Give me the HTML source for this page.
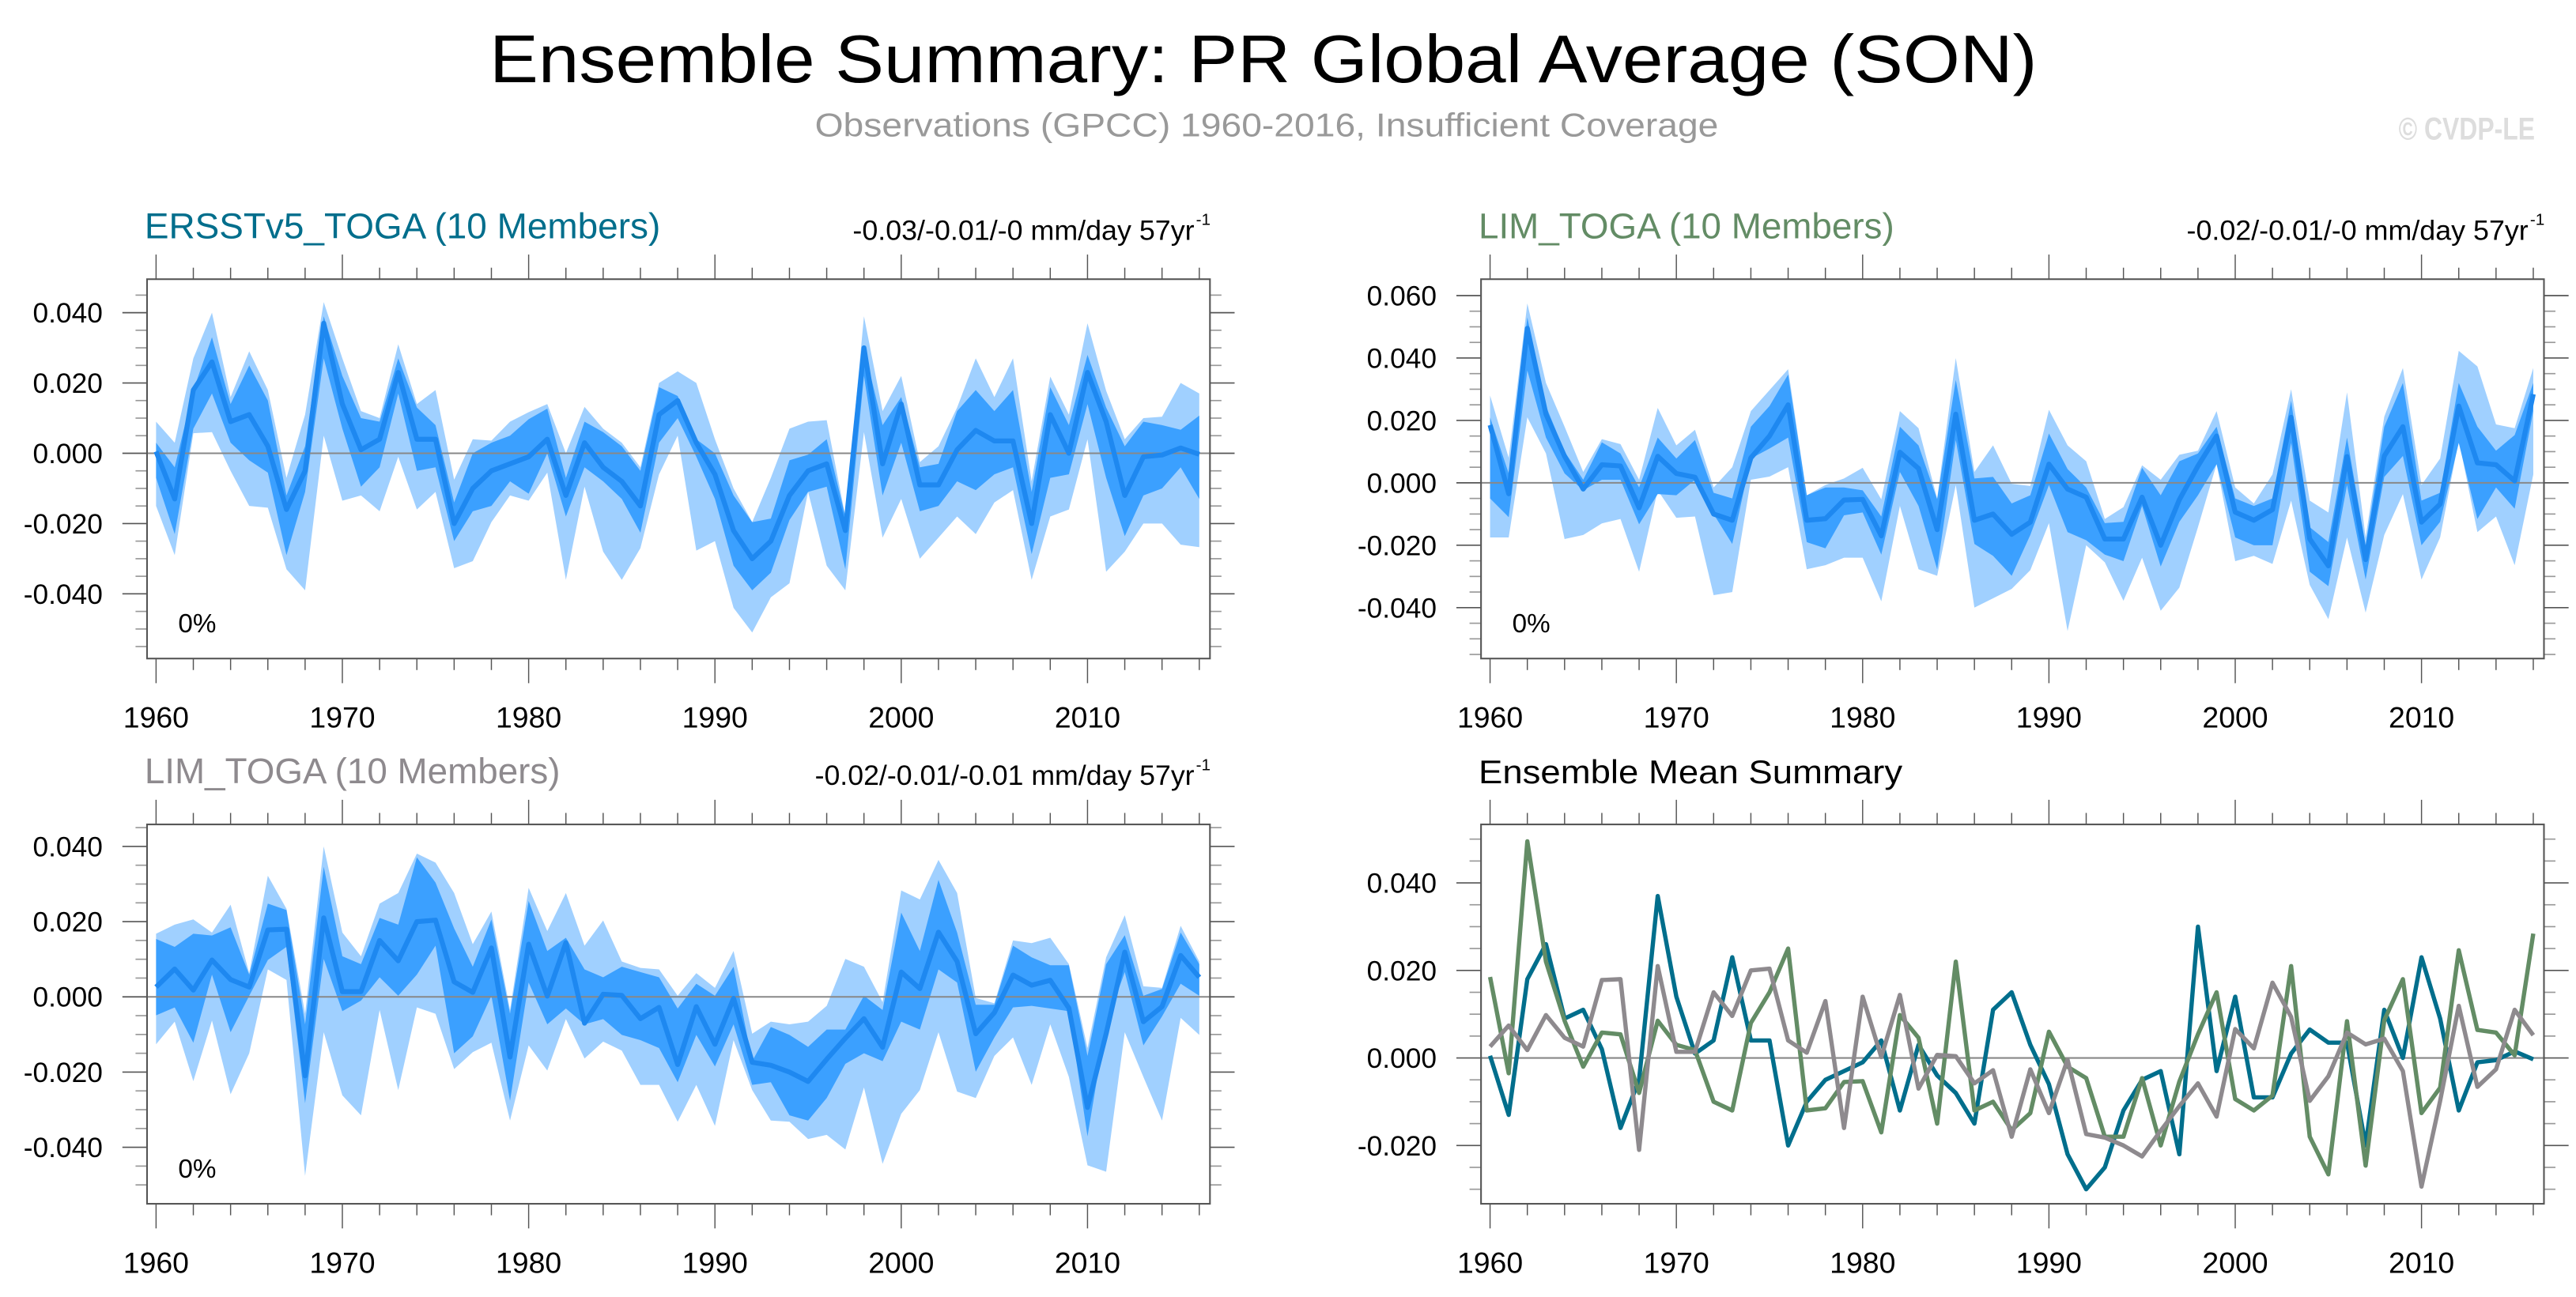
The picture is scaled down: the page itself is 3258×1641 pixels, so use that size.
<!DOCTYPE html>
<html><head><meta charset="utf-8"><title>Ensemble Summary: PR Global Average (SON)</title>
<style>
html,body{margin:0;padding:0;background:#fff;}
svg{display:block;font-family:"Liberation Sans",Arial,sans-serif;}
</style></head>
<body>
<svg id="fig" width="3258" height="1641" viewBox="0 0 1568 789.76" preserveAspectRatio="none" xmlns="http://www.w3.org/2000/svg">
<rect x="0" y="0" width="1568" height="790" fill="#fff"/>
<text x="298" y="50" font-size="41" fill="#000" textLength="942" lengthAdjust="spacingAndGlyphs">Ensemble Summary: PR Global Average (SON)</text>
<text x="496" y="83" font-size="20" fill="#999" textLength="550" lengthAdjust="spacingAndGlyphs">Observations (GPCC) 1960-2016, Insufficient Coverage</text>
<text x="1460" y="85" font-size="19" font-weight="bold" fill="#ddd" textLength="83" lengthAdjust="spacingAndGlyphs">© CVDP-LE</text>
<g id="content"></g>
</svg>
<script>
// ---- data ----
const startYear = 1960;
const nYears = 57;
// Panel 1: ERSSTv5_TOGA
const ersstMean = [0.0005,-0.013,0.018,0.026,0.009,0.011,0.002,-0.016,-0.005,0.037,0.014,0.001,0.004,0.023,0.004,0.004,-0.020,-0.010,-0.005,-0.003,-0.001,0.004,-0.012,0.003,-0.004,-0.008,-0.015,0.011,0.015,0.003,-0.006,-0.022,-0.030,-0.025,-0.012,-0.005,-0.003,-0.022,0.030,-0.003,0.014,-0.009,-0.009,0.001,0.0065,0.0035,0.0035,-0.020,0.011,0.000,0.023,0.009,-0.012,-0.001,-0.0005,0.0015,-0.0003];
const ersstMax = [0.009,0.003,0.027,0.040,0.016,0.029,0.018,-0.007,0.011,0.043,0.027,0.012,0.010,0.031,0.014,0.018,-0.0075,0.004,0.0036,0.009,0.0117,0.014,0.000,0.0132,0.007,0.003,-0.004,0.020,0.0233,0.020,0.004,-0.010,-0.0196,-0.007,0.007,0.009,0.0094,-0.018,0.039,0.012,0.022,-0.0025,0.002,0.013,0.027,0.016,0.027,-0.008,0.0218,0.011,0.037,0.0178,0.004,0.010,0.0104,0.020,0.017];
const ersstMin = [-0.015,-0.029,0.0057,0.006,-0.005,-0.015,-0.0155,-0.033,-0.039,0.005,-0.0135,-0.012,-0.0165,-0.001,-0.016,-0.011,-0.0327,-0.0307,-0.0196,-0.012,-0.0135,-0.0055,-0.036,-0.0095,-0.028,-0.036,-0.027,-0.006,0.005,-0.0277,-0.025,-0.044,-0.051,-0.041,-0.037,-0.011,-0.032,-0.039,0.006,-0.024,-0.013,-0.030,-0.024,-0.018,-0.023,-0.014,-0.0105,-0.036,-0.018,-0.016,0.004,-0.0337,-0.028,-0.020,-0.020,-0.026,-0.0267];
const ersstQ3 = [0.003,-0.004,0.018,0.033,0.014,0.025,0.015,-0.012,0.002,0.039,0.022,0.010,0.009,0.027,0.013,0.008,-0.014,0.000,0.003,0.005,0.0097,0.0127,-0.007,0.009,0.006,0.002,-0.005,0.0188,0.0163,0.004,0.000,-0.012,-0.0196,-0.0186,-0.002,-0.0004,0.004,-0.018,0.030,0.008,0.016,-0.004,-0.003,0.012,0.018,0.012,0.018,-0.011,0.0188,0.008,0.028,0.013,0.002,0.009,0.008,0.0067,0.0107];
const ersstQ1 = [-0.007,-0.023,0.007,0.017,0.003,-0.002,-0.0055,-0.029,-0.011,0.027,0.007,-0.0095,-0.004,0.017,-0.005,-0.004,-0.025,-0.0165,-0.015,-0.008,-0.0115,0.000,-0.018,-0.004,-0.008,-0.013,-0.0226,0.003,0.010,-0.001,-0.013,-0.032,-0.039,-0.034,-0.019,-0.011,-0.0095,-0.033,0.022,-0.012,0.003,-0.0165,-0.015,-0.008,-0.0105,-0.006,-0.004,-0.0287,-0.007,-0.006,0.014,-0.007,-0.0236,-0.012,-0.010,-0.004,-0.013];
// Panel 2: LIM_TOGA (green)
const limGMean = [0.0185,-0.0035,0.0495,0.022,0.0085,-0.002,0.0058,0.0054,-0.008,0.0085,0.003,0.0018,-0.010,-0.012,0.008,0.015,0.025,-0.012,-0.0115,-0.0055,-0.0053,-0.017,0.0098,0.0046,-0.015,0.022,-0.012,-0.010,-0.0165,-0.0126,0.006,-0.002,-0.0046,-0.018,-0.018,-0.0046,-0.020,-0.0054,0.0054,0.015,-0.0094,-0.012,-0.0086,0.021,-0.018,-0.0266,0.0084,-0.0246,0.0086,0.018,-0.0126,-0.0068,0.0246,0.0064,0.0058,0.0006,0.0284];
const limGMax = [0.028,0.008,0.0575,0.032,0.018,0.0035,0.014,0.0124,0.001,0.024,0.012,0.017,-0.0015,0.005,0.023,0.0297,0.0364,-0.004,-0.0007,0.0014,0.0048,-0.0053,0.023,0.0175,-0.005,0.040,0.0035,0.012,-0.0003,-0.001,0.0234,0.012,0.0069,-0.0116,-0.0078,0.0056,0.001,0.009,0.0103,0.023,-0.0015,-0.0066,0.0027,0.030,-0.0057,-0.0095,0.029,-0.0175,0.0212,0.0368,-0.0007,0.0078,0.0423,0.0373,0.0187,0.0175,0.0368];
const limGMin = [-0.0175,-0.0175,0.021,0.0094,-0.018,-0.0167,-0.013,-0.0116,-0.0285,-0.0024,-0.0112,-0.0108,-0.036,-0.035,0.001,0.002,0.005,-0.0277,-0.0264,-0.024,-0.024,-0.038,-0.0074,-0.0277,-0.0298,-0.0007,-0.040,-0.037,-0.034,-0.028,-0.0129,-0.0475,-0.020,-0.0255,-0.0378,-0.024,-0.041,-0.0336,-0.0142,0.006,-0.0251,-0.0234,-0.026,-0.0057,-0.0327,-0.0437,-0.0175,-0.0416,-0.0167,-0.0036,-0.031,-0.0175,0.0137,-0.0158,-0.0108,-0.0264,0.0027];
const limGQ3 = [0.021,0.003,0.053,0.0246,0.010,0.001,0.013,0.0094,-0.0015,0.0145,0.0078,0.0137,-0.0032,-0.005,0.018,0.0246,0.0347,-0.004,-0.0015,-0.0015,-0.0024,-0.0108,0.018,0.012,-0.0053,0.033,0.0014,0.0019,-0.0066,-0.004,0.0158,0.0044,-0.0015,-0.0129,-0.0125,0.0048,-0.004,0.0069,0.0094,0.018,-0.005,-0.0074,-0.005,0.0263,-0.0142,-0.019,0.0145,-0.020,0.018,0.032,-0.0057,-0.0032,0.032,0.018,0.0103,0.0153,0.032];
const limGQ1 = [-0.005,-0.011,0.036,0.0145,0.003,-0.0024,0.001,0.001,-0.0133,-0.0036,-0.004,0.001,-0.010,-0.0196,0.0078,0.011,0.0145,-0.019,-0.021,-0.0104,-0.0095,-0.023,0.0035,-0.0074,-0.0277,0.0137,-0.0196,-0.0234,-0.0298,-0.0167,-0.0007,-0.0158,-0.0184,-0.023,-0.0251,-0.0074,-0.0268,-0.0125,-0.004,0.006,-0.0175,-0.020,-0.020,0.0128,-0.0285,-0.0331,-0.0007,-0.031,0.0019,0.0086,-0.020,-0.0125,0.0128,-0.0116,-0.0015,-0.0083,0.023];
// Panel 3: LIM_TOGA (gray)
const limRMean = [0.0026,0.0074,0.0018,0.0098,0.0046,0.0026,0.0178,0.018,-0.021,0.021,0.0014,0.0014,0.015,0.0096,0.020,0.0204,0.004,0.0012,0.013,-0.016,0.014,0.0002,0.0144,-0.007,0.0007,0.0004,-0.0058,-0.0028,-0.018,-0.0026,-0.0126,-0.0004,-0.0174,-0.0182,-0.020,-0.0225,-0.0166,-0.011,-0.0058,-0.0134,0.0066,0.0022,0.0172,0.0094,-0.0098,-0.0042,0.0058,0.0031,0.0044,-0.003,-0.0294,-0.0098,0.0119,-0.0066,-0.0026,0.011,0.0052];
const limRMax = [0.0168,0.0192,0.0206,0.0171,0.0245,0.0063,0.0322,0.0234,-0.0045,0.040,0.0171,0.0108,0.0248,0.0276,0.0381,0.0357,0.0276,0.014,0.0227,-0.0035,0.029,0.0175,0.0276,0.0136,0.0203,0.0094,0.0077,0.0073,0.0003,0.0063,0.0024,0.0122,-0.0098,-0.0066,-0.0073,-0.0066,-0.0024,0.0101,0.008,-0.0014,0.0283,0.0259,0.0364,0.0276,-0.0003,-0.0017,0.015,0.0143,0.0157,0.0087,-0.0136,0.0105,0.0217,0.0028,0.0024,0.0189,0.0094];
const limRMin = [-0.0126,-0.0066,-0.0224,-0.0063,-0.0259,-0.015,0.0073,0.0045,-0.0476,-0.0094,-0.0262,-0.0315,-0.0035,-0.0248,-0.0028,-0.0045,-0.0192,-0.0147,-0.0122,-0.0329,-0.0129,-0.0196,-0.0059,-0.0164,-0.0119,-0.0143,-0.0234,-0.0234,-0.0332,-0.0234,-0.0343,-0.0115,-0.0248,-0.0329,-0.0332,-0.0378,-0.0367,-0.0406,-0.0241,-0.0444,-0.0311,-0.0248,-0.0094,-0.0252,-0.0269,-0.0157,-0.0108,-0.0234,-0.0073,-0.0213,-0.0448,-0.0465,-0.0094,-0.0213,-0.0329,-0.0056,-0.0101];
const limRQ3 = [0.0154,0.0133,0.0168,0.0163,0.0185,0.0059,0.0248,0.0231,-0.0073,0.0346,0.0108,0.0087,0.021,0.0192,0.0371,0.0304,0.0182,0.008,0.0206,-0.0045,0.0255,0.0122,0.0157,0.0073,0.0052,0.008,0.0066,0.0052,-0.0031,0.0035,0.0003,0.008,-0.0171,-0.008,-0.0101,-0.0133,-0.0087,-0.0087,0.0003,-0.0035,0.0224,0.0122,0.0311,0.0171,-0.0021,-0.0021,0.0136,0.0105,0.0084,0.0084,-0.0157,0.0087,0.0164,0.0003,0.0021,0.0171,0.0087];
const limRQ1 = [-0.0049,-0.0028,-0.0122,0.0059,-0.0094,0.0003,0.0098,0.0133,-0.0283,0.0101,-0.0038,-0.001,0.0052,0.0003,0.0059,0.0136,-0.015,-0.0105,0.0003,-0.0276,0.0038,-0.0073,-0.0031,-0.0073,-0.0059,-0.0101,-0.0115,-0.0136,-0.0227,-0.0101,-0.0185,-0.0073,-0.0234,-0.0227,-0.0315,-0.0329,-0.0269,-0.0178,-0.015,-0.0171,-0.0066,-0.0087,0.0073,0.0038,-0.0199,-0.0108,-0.0028,-0.0024,-0.0031,-0.0038,-0.0371,-0.0073,0.0066,-0.0129,-0.0052,0.0035,0.0003];
// tick labels
const ticks1 = [0.04,0.02,0,-0.02,-0.04];
const ticks2 = [0.06,0.04,0.02,0,-0.02,-0.04];
const ticks3 = [0.04,0.02,0,-0.02,-0.04];
const ticks4 = [0.04,0.02,0,-0.02];
const yearTicks = [1960,1970,1980,1990,2000,2010];

// ---- drawing ----
const NS = "http://www.w3.org/2000/svg";
const root = document.getElementById('content');
function mk(tag, attrs, parent){
  const e = document.createElementNS(NS, tag);
  for (const k in attrs) e.setAttribute(k, attrs[k]);
  (parent||root).appendChild(e);
  return e;
}
function fmt(v){ return v===0 ? "0.000" : v.toFixed(3); }

function axes(p, ticks, name){
  const g = mk('g', {});
  
  
  const yv = v => p.zero - v*p.k;
  const xv = yr => p.xa + (yr-startYear)*(p.xb-p.xa)/(nYears-1);
  for (let yr = startYear; yr <= startYear+nYears-1; yr += 2){
    const major = (yr % 10 === 0);
    const len = major ? 15 : 7;
    const x = xv(yr);
    mk('line', {x1:x, x2:x, y1:p.y0-len, y2:p.y0, stroke:'#555', 'stroke-width':0.7}, g);
    mk('line', {x1:x, x2:x, y1:p.y1, y2:p.y1+len, stroke:'#555', 'stroke-width':0.7}, g);
  }
  yearTicks.forEach(yr => {
    const t = mk('text', {x:xv(yr), y:p.y1+42, 'font-size':18, 'text-anchor':'middle', fill:'#000'}, g);
    
    
    t.textContent = yr;
  });
  const vmax = (p.zero - p.y0)/p.k, vmin = (p.zero - p.y1)/p.k;
  for (let m = Math.ceil(vmin/0.005 - 1e-6); m*0.005 <= vmax + 1e-9; m++){
    const v = m*0.005;
    const major = (m % 4 === 0);
    const len = major ? 15 : 7;
    const y = yv(v);
    if (y < p.y0+1 || y > p.y1-1) continue;
    mk('line', {x1:p.x0-len, x2:p.x0, y1:y, y2:y, stroke: major?'#555':'#999', 'stroke-width':0.8}, g);
    mk('line', {x1:p.x1, x2:p.x1+len, y1:y, y2:y, stroke: major?'#555':'#999', 'stroke-width':0.8}, g);
  }
  ticks.forEach(v => {
    const t = mk('text', {x:p.x0-27, y:yv(v)+6, 'font-size':17, 'text-anchor':'end', fill:'#000'}, g);
    
    
    t.textContent = fmt(v);
  });
  return {xv, yv};
}

function frame(p, name){
  const r = mk('rect', {x:p.x0, y:p.y0, width:p.x1-p.x0, height:p.y1-p.y0, fill:'none', stroke:'#555', 'stroke-width':1});
  
  
}

function bandPoly(xv, yv, hi, lo, fill, name){
  const pts = [];
  for (let i=0;i<hi.length;i++) pts.push(xv(startYear+i).toFixed(2)+','+yv(hi[i]).toFixed(2));
  for (let i=lo.length-1;i>=0;i--) pts.push(xv(startYear+i).toFixed(2)+','+yv(lo[i]).toFixed(2));
  const e = mk('polygon', {points:pts.join(' '), fill:fill});
  
  
}
function linePath(xv, yv, vals, color, w, name){
  const pts = vals.map((v,i)=>xv(startYear+i).toFixed(2)+','+yv(v).toFixed(2));
  const e = mk('polyline', {points:pts.join(' '), fill:'none', stroke:color, 'stroke-width':w, 'stroke-linejoin':'round'});
  
  
}
function zeroLine(p, yv){
  const e = mk('line', {x1:p.x0, x2:p.x1, y1:yv(0), y2:yv(0), stroke:'#888', 'stroke-width':1});
  
  
}
function label(x, y, size, color, txt, name, anchor, tl){
  const t = mk('text', {x:x, y:y, 'font-size':size, fill:color, 'text-anchor':anchor||'start'});
  if (tl){ t.setAttribute('textLength', tl); t.setAttribute('lengthAdjust','spacingAndGlyphs'); }
  
  
  t.textContent = txt;
  return t;
}
function trendLabel(xLeft, xRight, y, txt, name){
  const t = mk('text', {x:xLeft, y:y, 'font-size':17, fill:'#000', textLength:(xRight-xLeft-7), lengthAdjust:'spacingAndGlyphs'});
  
  
  t.textContent = txt;
  const s = mk('text', {x:xRight-6, y:y-9, 'font-size':10, fill:'#000'});
  
  
  s.textContent = '-1';
}

function ensemblePanel(p, ticks, hi, lo, q3, q1, mean, name){
  const {xv, yv} = axes(p, ticks, name);
  bandPoly(xv, yv, hi, lo, '#a0d0ff', name + '-range-band');
  bandPoly(xv, yv, q3, q1, '#3ba0ff', name + '-iqr-band');
  zeroLine(p, yv);
  linePath(xv, yv, mean, '#1e88f0', 3, name + '-ensemble-mean-line');
  frame(p, name);
  label(p.x0+19, p.y1-16, 16, '#000', '0%', name + '-percent-label');
}

const P1 = {x0:89.5, x1:736.5, y0:170, y1:401, xa:95, xb:730, zero:276, k:2140};
const P2 = {x0:901.5, x1:1548.5, y0:170, y1:401, xa:907, xb:1542, zero:294, k:1900};
const P3 = {x0:89.5, x1:736.5, y0:502, y1:733, xa:95, xb:730, zero:607, k:2290};
const P4 = {x0:901.5, x1:1548.5, y0:502, y1:733, xa:907, xb:1542, zero:644.2, k:2665};

ensemblePanel(P1, ticks1, ersstMax, ersstMin, ersstQ3, ersstQ1, ersstMean, 'ersst-panel');
label(88, 145, 22, '#006e8c', 'ERSSTv5_TOGA (10 Members)', 'ersst-panel-title', 'start', 314);
trendLabel(519, 734, 146, '-0.03/-0.01/-0 mm/day 57yr', 'ersst-trend-label');

ensemblePanel(P2, ticks2, limGMax, limGMin, limGQ3, limGQ1, limGMean, 'lim-green-panel');
label(900, 145, 22, '#638c65', 'LIM_TOGA (10 Members)', 'lim-green-panel-title', 'start', 253);
trendLabel(1331, 1546, 146, '-0.02/-0.01/-0 mm/day 57yr', 'lim-green-trend-label');

ensemblePanel(P3, ticks3, limRMax, limRMin, limRQ3, limRQ1, limRMean, 'lim-gray-panel');
label(88, 477, 22, '#8e8a8e', 'LIM_TOGA (10 Members)', 'lim-gray-panel-title', 'start', 253);
trendLabel(496, 734, 478, '-0.02/-0.01/-0.01 mm/day 57yr', 'lim-gray-trend-label');

(function(){
  const name = 'ensemble-mean-panel';
  const {xv, yv} = axes(P4, ticks4, name);
  zeroLine(P4, yv);
  linePath(xv, yv, ersstMean, '#006e8c', 2.6, 'ersst-mean-line');
  linePath(xv, yv, limGMean, '#638c65', 2.6, 'lim-green-mean-line');
  linePath(xv, yv, limRMean, '#8e8a8e', 2.6, 'lim-gray-mean-line');
  frame(P4, name);
  label(900, 477, 20, '#000', 'Ensemble Mean Summary', 'ensemble-mean-title', 'start', 258);
})();
</script>
</body></html>
